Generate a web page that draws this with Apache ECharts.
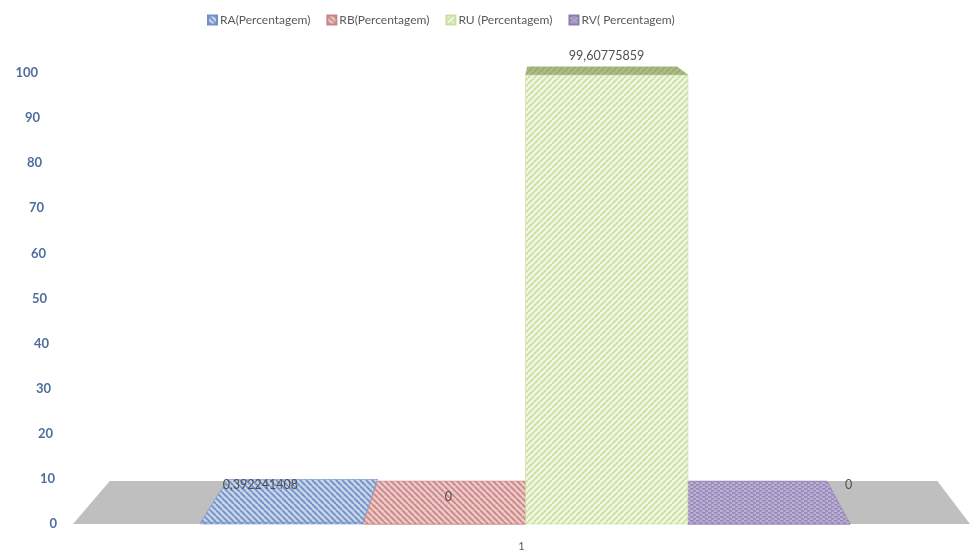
<!DOCTYPE html>
<html>
<head>
<meta charset="utf-8">
<script src="https://cdn.jsdelivr.net/npm/echarts@6/dist/echarts.min.js"></script>
<style>
html,body{margin:0;padding:0;background:#fff;}
#chart{width:971px;height:554px;}
</style>
</head>
<body>
<div id="chart"></div>
<script>
"use strict";
// dados
var categories = ['1'];
var seriesNames = ['RA(Percentagem)', 'RB(Percentagem)', 'RU (Percentagem)', 'RV( Percentagem)'];
var seriesValues = [[0.392241408], [0], [99.60775859], [0]];
var yMin = 0, yMax = 100, yStep = 10;

// estilo de cada serie (cor de fundo, cor da hachura, direcao)
var barStyles = [
    {bg: '#c6d4ea', line: '#6f8fc6', dir: 'back', shade: 0, label: [-32, -16], z: 2},
    {bg: '#ecc9c8', line: '#c98584', dir: 'back', shade: 0, label: [0, -6], z: 2},
    {bg: '#f0f6e2', line: '#cadf9f', dir: 'fwd', shade: 0.45, label: [2, -15], z: 4},
    {bg: '#bbb0d3', line: '#8b7bb0', dir: 'dash', shade: 0, label: [88, -18], z: 3}
];
var SLOT = 0.181;    // largura de cada barra em relacao a categoria
var SHIFT = 0.0045;  // deslocamento do grupo de barras
var K = 0.0774;      // profundidade da perspectiva

function makePattern(bg, line, dir){
    var s = 6;
    var c = document.createElement('canvas');
    c.width = s; c.height = (dir == 'dash') ? 4 : s;
    var ctx = c.getContext('2d');
    ctx.fillStyle = bg;
    ctx.fillRect(0, 0, c.width, c.height);
    ctx.strokeStyle = line;
    ctx.lineWidth = 1.7;
    ctx.beginPath();
    if(dir == 'dash'){
        ctx.lineWidth = 1.2;
        ctx.moveTo(0, 0.8); ctx.lineTo(3.5, 0.8);
        ctx.moveTo(3, 2.8); ctx.lineTo(6.5, 2.8);
    }else{
        for(var o = -s; o <= s; o += s){
            if(dir == 'back'){ ctx.moveTo(o, 0); ctx.lineTo(o + s, s); }
            else { ctx.moveTo(o, s); ctx.lineTo(o + s, 0); }
        }
    }
    ctx.stroke();
    return {image: c, repeat: 'repeat'};
}

var patterns = barStyles.map(function(st){ return makePattern(st.bg, st.line, st.dir); });

function back(p, vp){
    return [p[0] + K * (vp[0] - p[0]), p[1] + K * (vp[1] - p[1])];
}
function vanish(cs){
    return [cs.x + cs.width * 0.53, cs.y - 103];
}
function fmt(v){
    return String(v).replace('.', ',');
}

// chao cinza
function floorRender(params, api){
    var cs = params.coordSys;
    var vp = vanish(cs);
    var y = api.coord([0, 0])[1];
    var a = [cs.x, y], b = [cs.x + cs.width, y];
    return {
        type: 'polygon',
        shape: {points: [a, b, back(b, vp), back(a, vp)]},
        style: {fill: '#bfbfbf'}
    };
}

function barRender(i){
    return function(params, api){
        var cs = params.coordSys;
        var vp = vanish(cs);
        var cat = api.value(0), v = api.value(1);
        var base = api.coord([cat, 0]);
        var top = api.coord([cat, v]);
        var bw = api.size([1, 0])[0];
        var w = bw * SLOT;
        var x0 = base[0] + bw * SHIFT - w * seriesNames.length / 2 + i * w;
        var x1 = x0 + w;
        var st = barStyles[i];
        var a = [x0, top[1]], b = [x1, top[1]], c = back(b, vp), d = back(a, vp);
        var kids = [
            {type: 'rect', shape: {x: x0, y: top[1], width: w, height: base[1] - top[1]},
             style: {fill: patterns[i], stroke: st.line, lineWidth: 0.6}},
            {type: 'polygon', shape: {points: [a, b, c, d]},
             style: {fill: patterns[i], stroke: st.line, lineWidth: 0.6}}
        ];
        if(st.shade > 0){
            kids.push({type: 'polygon', shape: {points: [a, b, c, d]},
                style: {fill: 'rgba(90,110,40,' + st.shade + ')'}});
        }
        var cx = (a[0] + b[0] + c[0] + d[0]) / 4;
        var cy = (a[1] + b[1] + c[1] + d[1]) / 4;
        kids.push({type: 'text', x: cx + st.label[0], y: cy + st.label[1],
            style: {text: fmt(v), fill: '#505050', font: '12.5px Lato',
                    align: 'center', verticalAlign: 'middle'}});
        return {type: 'group', children: kids};
    };
}

var series = [{
    name: 'floor', type: 'custom', z: 1, silent: true,
    renderItem: floorRender,
    data: [[0, 0]]
}];
seriesNames.forEach(function(name, i){
    series.push({
        name: name,
        type: 'custom',
        z: barStyles[i].z,
        itemStyle: {color: patterns[i], borderColor: barStyles[i].line, borderWidth: 1},
        renderItem: barRender(i),
        data: seriesValues[i].map(function(v, j){ return [j, v]; })
    });
});

// rotulos do eixo y acompanham a perspectiva
var yRich = {};
for(var t = yMin; t <= yMax; t += yStep){
    yRich['p' + t] = {color: '#4e6d9e', fontSize: 13, fontWeight: 'bold', fontFamily: 'Lato',
                      padding: [0, Math.round(t / yMax * 19), 0, 0]};
}

var myChart = echarts.init(document.getElementById('chart'));
var option = {
    animation: false,
    textStyle: {fontFamily: 'Lato'},
    legend: {
        top: 9,
        left: 202,
        itemWidth: 9,
        itemHeight: 9,
        itemGap: 16,
        icon: 'rect',
        textStyle: {color: '#595959', fontSize: 12, fontFamily: 'Lato', padding: [0, 0, 0, -2]},
        data: seriesNames
    },
    grid: {left: 73, right: 1, top: 73, bottom: 30},
    xAxis: {
        type: 'category',
        data: categories,
        axisLine: {show: false},
        axisTick: {show: false},
        axisLabel: {color: '#595959', fontSize: 11, margin: 17}
    },
    yAxis: {
        type: 'value',
        min: yMin,
        max: yMax,
        interval: yStep,
        splitLine: {show: false},
        axisLine: {show: false},
        axisTick: {show: false},
        axisLabel: {
            margin: 16,
            formatter: function(v){ return '{p' + v + '|' + v + '}'; },
            rich: yRich
        }
    },
    series: series
};
myChart.setOption(option);
</script>
</body>
</html>
